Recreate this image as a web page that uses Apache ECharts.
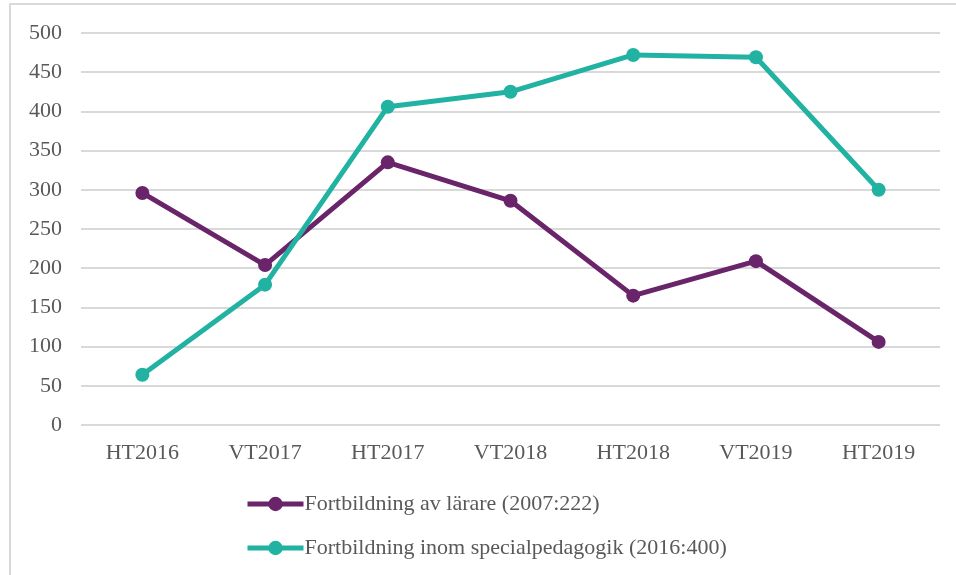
<!DOCTYPE html>
<html>
<head>
<meta charset="utf-8">
<script src="https://cdn.jsdelivr.net/npm/echarts@6/dist/echarts.min.js"></script>
<style>
  html, body { margin: 0; padding: 0; background: #fff; }
  #frame { position: absolute; left: 9px; top: 3px; width: 960px; height: 600px; border: 2px solid #d9d9d9; box-sizing: border-box; }
  #chart { position: absolute; left: 0; top: 0; width: 956px; height: 575px; }
</style>
</head>
<body>
<div id="frame"></div>
<div id="chart"></div>
<script>
// terminer
const categories = ['HT2016', 'VT2017', 'HT2017', 'VT2018', 'HT2018', 'VT2019', 'HT2019']
const lararValues = [296, 204, 335, 286, 165, 209, 106]
const specialValues = [64, 179, 406, 425, 472, 469, 300]
const seriesNames = ['Fortbildning av lärare (2007:222)', 'Fortbildning inom specialpedagogik (2016:400)']

const textColor = '#595959'
const fontFamily = 'Liberation Serif, DejaVu Serif, serif'
const purple = '#69246a'
const teal = '#21b2a2'

const chart = echarts.init(document.getElementById('chart'))
chart.setOption({
  animation: false,
  textStyle: { fontFamily: fontFamily },
  grid: { left: 81, right: 16, top: 33, bottom: 150 },
  legend: {
    orient: 'vertical',
    left: 240,
    top: 488,
    itemWidth: 56,
    itemHeight: 18,
    itemGap: 22,
    lineStyle: { width: 5 },
    textStyle: { color: textColor, fontSize: 22, fontFamily: fontFamily, padding: [0, 0, 0, -4] },
    data: seriesNames
  },
  xAxis: {
    type: 'category',
    data: categories,
    axisLine: { show: false },
    axisTick: { show: false },
    axisLabel: { color: textColor, fontSize: 22, margin: 17 }
  },
  yAxis: {
    type: 'value',
    min: 0,
    max: 500,
    interval: 50,
    axisLine: { show: false },
    axisTick: { show: false },
    axisLabel: { color: textColor, fontSize: 22, margin: 19 },
    splitLine: { lineStyle: { color: '#d9d9d9', width: 2 } }
  },
  series: [
    {
      name: seriesNames[0],
      type: 'line',
      data: lararValues,
      symbol: 'circle',
      symbolSize: 14,
      lineStyle: { width: 5, color: purple },
      itemStyle: { color: purple }
    },
    {
      name: seriesNames[1],
      type: 'line',
      data: specialValues,
      symbol: 'circle',
      symbolSize: 14,
      lineStyle: { width: 5, color: teal },
      itemStyle: { color: teal }
    }
  ]
})
</script>
</body>
</html>
